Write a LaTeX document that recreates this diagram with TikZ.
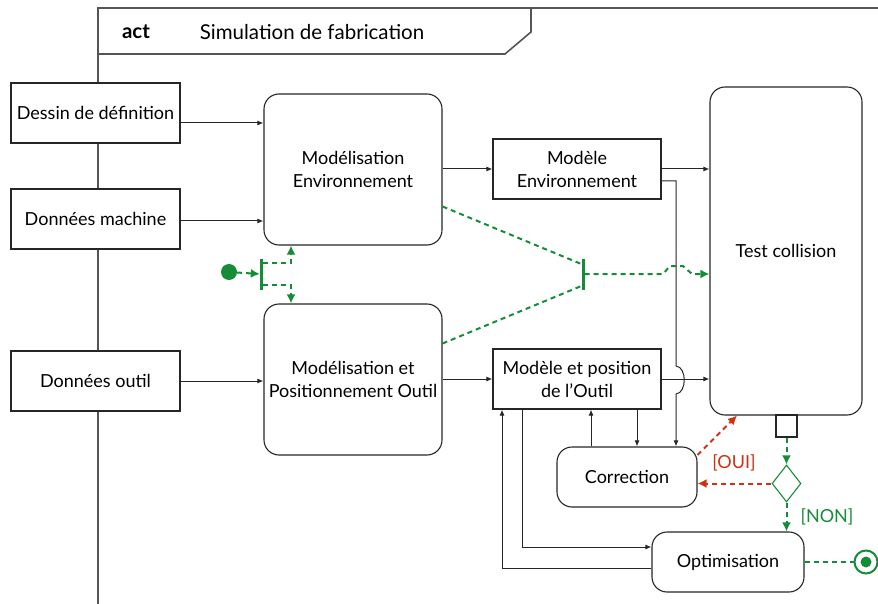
\documentclass[tikz,border=0pt]{standalone}
\usepackage{fontspec}
\setmainfont{Lato}
\usetikzlibrary{arrows.meta,shapes.geometric}
\definecolor{grn}{RGB}{22,140,56}
\definecolor{rd}{RGB}{205,50,20}
\definecolor{frm}{RGB}{85,85,85}
\begin{document}
\begin{tikzpicture}[x=1pt,y=-1pt,
  font=\fontsize{18}{23}\selectfont,
  obj/.style={draw=black!85,line width=1.1pt,fill=white,rectangle,align=center,inner sep=2pt},
  actv/.style={obj,rounded corners=15pt},
  arr/.style={draw=black!85,line width=1pt,-{Latex[length=6pt,width=5pt]}},
  ln/.style={draw=black!85,line width=1pt},
  gd/.style={draw=grn,line width=2pt,dash pattern=on 5pt off 4pt,-{Latex[length=9pt,width=9pt]}},
  gdn/.style={draw=grn,line width=2pt,dash pattern=on 5pt off 4pt},
  rdd/.style={draw=rd,line width=2pt,dash pattern=on 5pt off 4pt,-{Latex[length=9pt,width=9pt]}},
  barn/.style={fill=grn,draw=none,rectangle,minimum width=3pt,minimum height=31pt,inner sep=0pt}
]
\useasboundingbox (0,0) rectangle (878,604);
% frame
\draw[frm,line width=1.6pt] (98,604) -- (98,8) -- (878,8);
\draw[frm,line width=1.6pt] (98,54) -- (505,54) -- (531,32) -- (531,8);
\node[font=\fontsize{20.5}{24}\selectfont\bfseries] (act) at (136,32) {act};
\node[font=\fontsize{20.5}{24}\selectfont] (title) at (312,32) {Simulation de fabrication};
% object nodes
\node[obj,minimum width=169pt,minimum height=60pt] (dessin) at (95.5,113) {Dessin de définition};
\node[obj,minimum width=169pt,minimum height=60pt] (machine) at (95.5,219) {Données machine};
\node[obj,minimum width=169pt,minimum height=60pt] (outil) at (95.5,381) {Données outil};
\node[actv,minimum width=178pt,minimum height=151pt] (modenv) at (353,169.5) {Modélisation\\Environnement};
\node[actv,minimum width=178pt,minimum height=151pt] (modout) at (353,379.5) {Modélisation et\\Positionnement Outil};
\node[obj,minimum width=168pt,minimum height=60pt] (menv) at (577,169) {Modèle\\Environnement};
\node[obj,minimum width=168pt,minimum height=60pt] (mpos) at (577,379) {Modèle et position\\de l’Outil};
\node[actv,minimum width=152pt,minimum height=328pt] (test) at (786,251) {Test collision};
\node[actv,minimum width=140pt,minimum height=60pt] (corr) at (627,477) {Correction};
\node[actv,minimum width=152pt,minimum height=60pt] (optim) at (728,562) {Optimisation};
\node[obj,minimum width=21pt,minimum height=22pt,inner sep=0pt] (pin) at (786.5,426) {};
\node[diamond,draw=grn,line width=1.1pt,inner sep=0pt,minimum width=29pt,minimum height=37pt] (dia) at (786.5,483.5) {};
\node[circle,fill=grn,inner sep=0pt,minimum size=16pt] (init) at (229,272) {};
\node[circle,draw=grn,line width=2pt,fill=white,inner sep=0pt,minimum size=23pt] (final) at (866,562) {};
\node[circle,fill=grn,inner sep=0pt,minimum size=11pt] (finaldot) at (final.center) {};
\node[barn] (fork) at (261.5,274) {};
\node[barn] (join) at (583,274) {};
% black flows
\draw[arr] ([yshift=-10pt]dessin.east) -- ([yshift=-10pt]dessin.east -| modenv.west);
\draw[arr] ([yshift=-2pt]machine.east) -- ([yshift=-2pt]machine.east -| modenv.west);
\draw[arr] (outil.east) -- (outil.east -| modout.west);
\draw[arr] (menv.west -| modenv.east) -- (menv.west);
\draw[arr] (modout.east |- mpos.west) -- (mpos.west);
\draw[arr] (menv.east) -- (menv.east -| test.west);
\draw[arr] (mpos.east) -- (mpos.east -| test.west);
\coordinate (jtop) at (676,366);
\coordinate (jbot) at (676,394);
\draw[arr] ([yshift=-12pt]menv.east) -| (jtop) .. controls (687,367) and (687,393) .. (jbot) -- (jbot |- corr.north);
\draw[arr] ([xshift=60pt]mpos.south) -- ([xshift=60pt]mpos.south |- corr.north);
\draw[arr] ([xshift=14pt]mpos.south |- corr.north) -- ([xshift=14pt]mpos.south);
\draw[arr] ([xshift=-55pt]mpos.south) |- ([yshift=15pt]optim.west);
\draw[arr] ([yshift=-6pt]optim.west) -| ([xshift=-75pt]mpos.south);
% green control flows
\draw[gd] (init) -- (fork.west);
\draw[gd] ([yshift=11pt]fork.east) -| ([xshift=-62pt]modenv.south);
\draw[gd] ([yshift=-11pt]fork.east) -| ([xshift=-62pt]modout.north);
\draw[gdn] ([yshift=-37pt]modenv.east) -- ([yshift=10pt]join.west);
\draw[gdn] ([yshift=36pt]modout.east) -- ([yshift=-12pt]join.west);
\coordinate (h1) at (663,274);
\coordinate (h2) at (670,266);
\coordinate (h3) at (683,266);
\coordinate (h4) at (692,274);
\draw[gd] (join.east) -- (h1) -- (h2) -- (h3) -- (h4) -- (join.east -| test.west);
\draw[gd] (pin.south) -- (dia.north);
\draw[gd] (dia.south) -- (dia.south |- optim.north);
\node[text=grn,anchor=west] (non) at (797,517) {[NON]};
\draw[rdd] (dia.west) -- (dia.west -| corr.east);
\node[text=rd] (oui) at (734,463) {[OUI]};
\draw[rdd] ([yshift=22pt]corr.east) -- ([xshift=-49pt]test.south);
\draw[gdn] (optim.east) -- (final.west);
\end{tikzpicture}
\end{document}
